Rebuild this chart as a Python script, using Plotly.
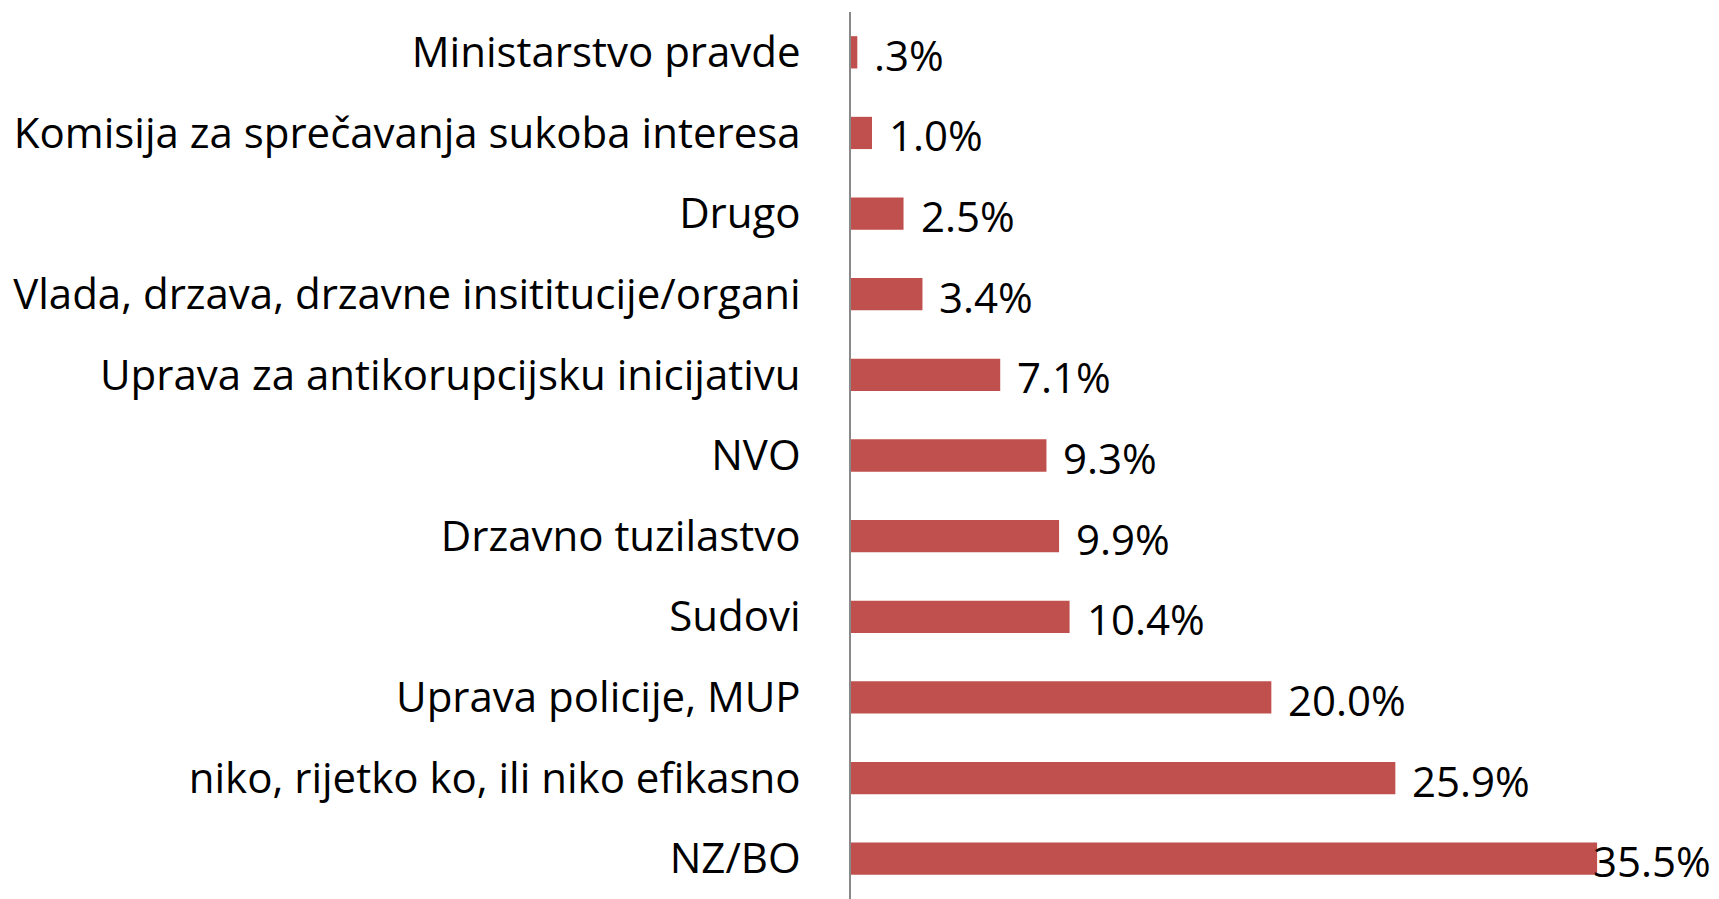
import plotly.graph_objects as go

categories = [
    "Ministarstvo pravde",
    "Komisija za sprečavanja sukoba interesa",
    "Drugo",
    "Vlada, drzava, drzavne insititucije/organi",
    "Uprava za antikorupcijsku inicijativu",
    "NVO",
    "Drzavno tuzilastvo",
    "Sudovi",
    "Uprava policije, MUP",
    "niko, rijetko ko, ili niko efikasno",
    "NZ/BO",
]
values = [0.3, 1.0, 2.5, 3.4, 7.1, 9.3, 9.9, 10.4, 20.0, 25.9, 35.5]
value_labels = [".3%", "1.0%", "2.5%", "3.4%", "7.1%", "9.3%", "9.9%", "10.4%", "20.0%", "25.9%", "35.5%"]
label_shifts = [15, 15, 15, 15, 15, 15, 15, 15, 15, 15, -6]

FONT = "Open Sans"
FS = 42
fig = go.Figure()
fig.add_trace(go.Bar(
    y=categories, x=values, orientation="h",
    marker=dict(color="#C0504D", line=dict(width=0)),
    hoverinfo="skip",
))
for c, v, t, s in zip(categories, values, value_labels, label_shifts):
    fig.add_annotation(x=v, y=c, text=t, showarrow=False, xanchor="left",
                       yanchor="middle", xshift=s, yshift=-2,
                       font=dict(family=FONT, size=FS, color="#000000"))

fig.update_layout(
    width=1719, height=899,
    margin=dict(l=851, r=0, t=12, b=0),
    paper_bgcolor="white", plot_bgcolor="white",
    bargap=0.6, showlegend=False,
    font=dict(family=FONT, size=FS, color="#000000"),
)
fig.update_xaxes(range=[0, 41.3], visible=False, fixedrange=True)
fig.update_yaxes(autorange="reversed", showline=True, linecolor="#898989", linewidth=2,
                 ticks="", showgrid=False, ticklabelstandoff=40,
                 tickfont=dict(family=FONT, size=FS, color="#000000"), fixedrange=True)

fig.write_html("out.html", config={"displayModeBar": False},
               post_script="document.body.style.margin='0';document.body.style.overflow='hidden';")
